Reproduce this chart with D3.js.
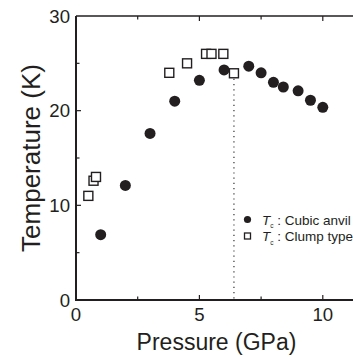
<!DOCTYPE html>
<html>
<head>
<meta charset="utf-8">
<script src="https://cdn.jsdelivr.net/npm/d3@7"></script>
<style>
  html, body { margin: 0; padding: 0; background: #fff; }
  svg { display: block; font-family: "Liberation Sans", Arial, sans-serif; }
</style>
</head>
<body>
<svg id="chart" width="353" height="357"></svg>
<script>
// Cubic anvil measurements: pressure (GPa) and Tc (K)
const cubicP = [1.0, 2.0, 3.0, 4.0, 5.0, 6.0, 7.0, 7.5, 8.0, 8.4, 9.0, 9.5, 10.0];
const cubicT = [6.9, 12.1, 17.6, 21.0, 23.2, 24.3, 24.7, 24.0, 23.0, 22.5, 22.1, 21.1, 20.35];

// Clump type measurements
const clumpP = [0.5, 0.71, 0.81, 3.78, 4.5, 5.27, 5.49, 5.97, 6.4];
const clumpT = [11.0, 12.6, 13.0, 24.0, 25.0, 26.0, 26.0, 26.0, 23.95];

// Marker of the Tc maximum
const markerP = 6.4;
const markerT = 24.0;

const xMajor = [0, 5, 10];
const xMinor = [2.5, 7.5];
const yMajor = [0, 10, 20, 30];
const yMinor = [5, 15, 25];

const legendLabels = [" : Cubic anvil", " : Clump type"];

const svg = d3.select("#chart");
const plotLeft = 76, plotTop = 16, plotBottom = 300;
const x = d3.scaleLinear().domain([0, 12]).range([plotLeft, plotLeft + 12 * 24.68]);
const y = d3.scaleLinear().domain([0, 30]).range([plotBottom, plotTop]);
const ink = "#231f20";

// Frame: left axis, bottom axis and top border
svg.append("line").attr("x1", plotLeft).attr("x2", plotLeft).attr("y1", plotTop).attr("y2", plotBottom + 1)
  .attr("stroke", ink).attr("stroke-width", 2);
svg.append("line").attr("x1", plotLeft - 1).attr("x2", 353).attr("y1", plotBottom).attr("y2", plotBottom)
  .attr("stroke", ink).attr("stroke-width", 2);
svg.append("line").attr("x1", plotLeft).attr("x2", 353).attr("y1", plotTop).attr("y2", plotTop)
  .attr("stroke", ink).attr("stroke-width", 1.5);

// Inward ticks
const tickG = svg.append("g").attr("stroke", ink).attr("stroke-width", 1.2);
xMajor.concat(xMinor).forEach(v => {
  if (v === 0) return;
  const len = xMajor.includes(v) ? 5 : 3.5;
  tickG.append("line").attr("x1", x(v)).attr("x2", x(v)).attr("y1", plotBottom).attr("y2", plotBottom - len);
  tickG.append("line").attr("x1", x(v)).attr("x2", x(v)).attr("y1", plotTop).attr("y2", plotTop + len);
});
yMajor.concat(yMinor).forEach(v => {
  if (v === 0 || v === 30) return;
  const len = yMajor.includes(v) ? 5 : 3.5;
  tickG.append("line").attr("x1", plotLeft).attr("x2", plotLeft + len).attr("y1", y(v)).attr("y2", y(v));
});

// Tick labels
const tickFont = 18.6;
svg.append("g").selectAll("text").data(yMajor).join("text")
  .attr("x", plotLeft - 6).attr("y", d => y(d)).attr("dy", "0.36em")
  .attr("text-anchor", "end").attr("font-size", tickFont).attr("fill", ink)
  .text(d => d);
svg.append("g").selectAll("text").data(xMajor).join("text")
  .attr("x", d => x(d)).attr("y", plotBottom + 20.5)
  .attr("text-anchor", "middle").attr("font-size", tickFont).attr("fill", ink)
  .text(d => d);

// Axis titles
svg.append("text").attr("x", 216.5).attr("y", 349.5)
  .attr("text-anchor", "middle").attr("font-size", 23).attr("fill", ink)
  .text("Pressure (GPa)");
svg.append("text").attr("transform", `translate(39.5, 158) rotate(-90)`)
  .attr("text-anchor", "middle").attr("font-size", 26).attr("fill", ink)
  .text("Temperature (K)");

// Dotted guide at the Tc maximum
svg.append("line").attr("x1", x(markerP)).attr("x2", x(markerP))
  .attr("y1", y(markerT) + 6).attr("y2", plotBottom)
  .attr("stroke", ink).attr("stroke-width", 1.1).attr("stroke-dasharray", "1.2,4");

// Clump type: open squares
const sq = 9;
svg.append("g").selectAll("rect").data(clumpP.map((p, i) => [p, clumpT[i]])).join("rect")
  .attr("x", d => x(d[0]) - sq / 2).attr("y", d => y(d[1]) - sq / 2)
  .attr("width", sq).attr("height", sq)
  .attr("fill", "#fff").attr("stroke", ink).attr("stroke-width", 1.4);

// Cubic anvil: filled circles
svg.append("g").selectAll("circle").data(cubicP.map((p, i) => [p, cubicT[i]])).join("circle")
  .attr("cx", d => x(d[0])).attr("cy", d => y(d[1])).attr("r", 5.5)
  .attr("fill", ink);

// Legend
const lg = svg.append("g");
const rows = [219.5, 236];
lg.append("circle").attr("cx", 247.5).attr("cy", rows[0]).attr("r", 3.6).attr("fill", ink);
lg.append("rect").attr("x", 244.5).attr("y", rows[1] - 3).attr("width", 6).attr("height", 6)
  .attr("fill", "#fff").attr("stroke", ink).attr("stroke-width", 1.3);
rows.forEach((ry, i) => {
  const t = lg.append("text").attr("x", 262).attr("y", ry + 5)
    .attr("font-size", 13.5).attr("fill", ink).attr("xml:space", "preserve")
    .style("white-space", "pre");
  t.append("tspan").attr("font-style", "italic").text("T");
  t.append("tspan").attr("font-size", 6.5).attr("dy", 3.5).attr("dx", 0).text("c");
  t.append("tspan").attr("dy", -3.5).text(legendLabels[i]);
});
</script>
</body>
</html>
